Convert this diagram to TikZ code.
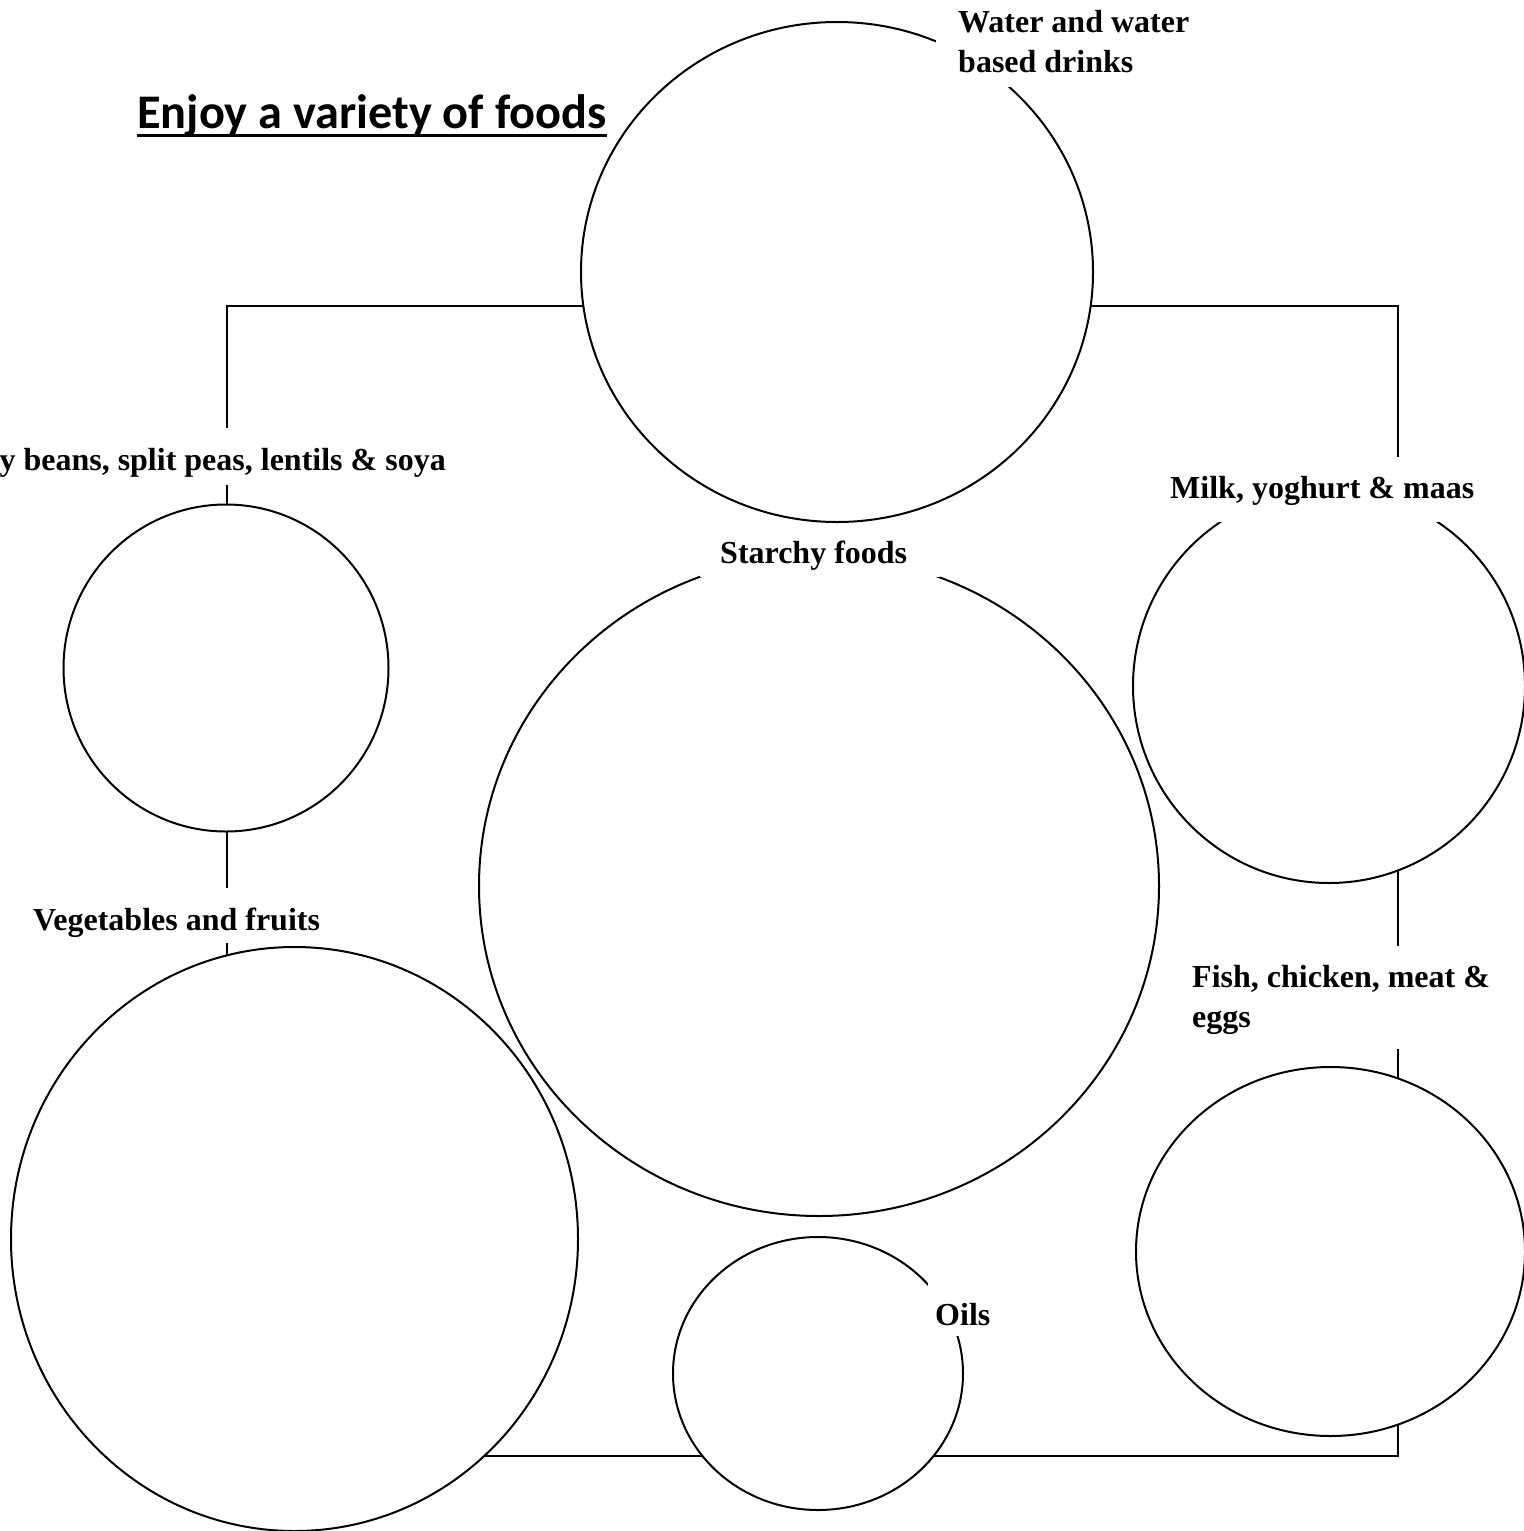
\documentclass[tikz,border=0pt]{standalone}
\usepackage{fontspec}
\setmainfont{Liberation Serif}
\newfontfamily\titlefont{Carlito}
\usetikzlibrary{shapes.geometric,backgrounds}
\tikzset{
  food/.style={ellipse,draw,fill=white,line width=2pt,inner sep=0pt},
  conn/.style={line width=2pt},
  lbl/.style={inner sep=0pt,font=\bfseries\fontsize{32}{40}\selectfont,align=left},
  cover/.style={fill=white,draw=none},
}
\begin{document}
\begin{tikzpicture}[x=1pt,y=-1pt]
\useasboundingbox (0,0) rectangle (1523,1531);
% food circles
\node[food,minimum width=512pt,minimum height=500pt] (water) at (837,272) {};
\node[food,minimum width=325pt,minimum height=327pt] (beans) at (226,668) {};
\node[food,minimum width=680pt,minimum height=660pt] (starch) at (819,886) {};
\node[food,minimum width=392pt,minimum height=394pt] (milk) at (1329,686) {};
\node[food,minimum width=389pt,minimum height=369pt] (fish) at (1330.5,1251.5) {};
\node[food,minimum width=567pt,minimum height=584pt] (veg) at (294.5,1239) {};
\node[food,minimum width=290pt,minimum height=273pt] (oils) at (818,1373.5) {};
% connectors (behind the circles)
\coordinate (cNW) at (227,306);
\coordinate (cNE) at (1398,306);
\coordinate (cSW) at (227,1456);
\coordinate (cSE) at (1398,1456);
\begin{scope}[on background layer]
\draw[conn] (cNW) -- (cSW) -- (cSE) -- (cNE) -- cycle;
\end{scope}
% white label backgrounds
\path[cover] (936,0) rectangle (1215,87);
\path[cover] (0,428) rectangle (452,485);
\path[cover] (1160,457) rectangle (1485,522);
\path[cover] (700,532) rectangle (940,577);
\path[cover] (20,888) rectangle (335,943);
\path[cover] (1180,946) rectangle (1495,1049);
\path[cover] (928,1280) rectangle (1000,1336);
% labels
\node[lbl,anchor=base west] (twater) at (958,72) {Water and water\\based drinks};
\node[lbl,anchor=base east] (tbeans) at (446,470) {y beans, split peas, lentils \& soya};
\node[lbl,anchor=base west] (tmilk) at (1170,498) {Milk, yoghurt \& maas};
\node[lbl,anchor=base west] (tstarch) at (720,563) {Starchy foods};
\node[lbl,anchor=base west] (tveg) at (33,930) {Vegetables and fruits};
\node[lbl,anchor=base west] (tfish) at (1192,1027) {Fish, chicken, meat \&\\eggs};
\node[lbl,anchor=base west] (toils) at (935,1325) {Oils};
% title
\node[inner sep=0pt,anchor=base west,font=\titlefont\bfseries\fontsize{48.3}{58}\selectfont] (title) at (137,128) {Enjoy a variety of foods};
\draw[line width=3.3pt] ([yshift=-7.5pt]title.base west) -- ([yshift=-7.5pt]title.base east);
\end{tikzpicture}
\end{document}
